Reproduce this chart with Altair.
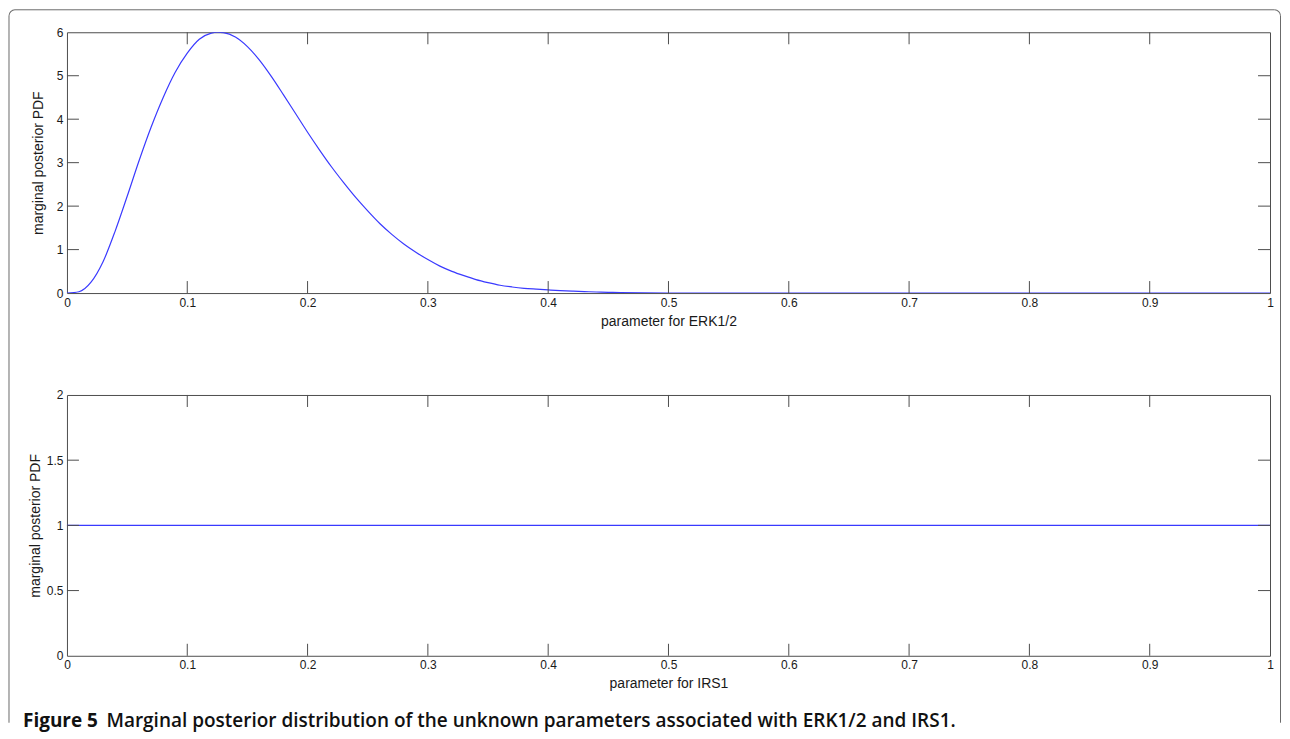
import altair as alt
import pandas as pd

# ---- data ----
erk_x = [0.00, 0.01, 0.02, 0.03, 0.04, 0.05, 0.06, 0.07, 0.08, 0.09, 0.10, 0.11,
         0.12, 0.125, 0.13, 0.14, 0.15, 0.16, 0.17, 0.18, 0.19, 0.20, 0.21, 0.22,
         0.23, 0.24, 0.25, 0.26, 0.27, 0.28, 0.29, 0.30, 0.31, 0.32, 0.33, 0.34,
         0.35, 0.36, 0.37, 0.38, 0.39, 0.40, 0.41, 0.42, 0.43, 0.44, 0.45, 0.46,
         0.50, 0.60, 0.70, 0.80, 0.90, 1.00]
erk_y = [0.00, 0.03, 0.25, 0.72, 1.42, 2.22, 3.05, 3.82, 4.50, 5.08, 5.52, 5.84,
         5.98, 6.00, 5.99, 5.89, 5.67, 5.36, 4.98, 4.56, 4.13, 3.70, 3.29, 2.90,
         2.54, 2.20, 1.89, 1.60, 1.35, 1.13, 0.94, 0.77, 0.62, 0.50, 0.40, 0.31,
         0.24, 0.18, 0.14, 0.11, 0.09, 0.072, 0.056, 0.044, 0.034, 0.025, 0.017, 0.01,
         0.0, 0.0, 0.0, 0.0, 0.0, 0.0]
irs_x = [0.0, 1.0]
irs_y = [1.0, 1.0]

x_labels = [0, 0.1, 0.2, 0.3, 0.4, 0.5, 0.6, 0.7, 0.8, 0.9, 1]
x_inner_ticks = [0.1, 0.2, 0.3, 0.4, 0.5, 0.6, 0.7, 0.8, 0.9]
top_y_labels = [0, 1, 2, 3, 4, 5, 6]
top_y_inner = [1, 2, 3, 4, 5]
bot_y_labels = [0, 0.5, 1, 1.5, 2]
bot_y_inner = [0.5, 1, 1.5]

y_title = "marginal posterior PDF"
x_title_top = "parameter for ERK1/2"
x_title_bot = "parameter for IRS1"
caption_bold = "Figure 5"
caption_rest = "Marginal posterior distribution of the unknown parameters associated with ERK1/2 and IRS1."

W, H = 1204, 261
TICK = 12
AX = "#4d4d4d"
LINE = "#3a3aff"
FRAME = "#6a6a6a"


def panel(xs, ys, ymax, ylabels, yinner, xtitle, title_pad):
    xs_scale = alt.Scale(domain=[0, 1], nice=False, zero=False)
    ys_scale = alt.Scale(domain=[0, ymax], nice=False, zero=False)
    df = pd.DataFrame({"x": xs, "y": ys})
    line = alt.Chart(df).mark_line(color=LINE, strokeWidth=1.2, clip=True,
                                   interpolate="monotone").encode(
        x=alt.X("x:Q", scale=xs_scale,
                axis=alt.Axis(values=x_labels, format="~g", title=xtitle,
                              titlePadding=6, labelPadding=4, labelFlush=False)),
        y=alt.Y("y:Q", scale=ys_scale,
                axis=alt.Axis(values=ylabels, format="~g", title=y_title,
                              titlePadding=title_pad, labelPadding=4,
                              labelFlush=False)),
        order="x:Q",
    )
    xt = pd.DataFrame({"x": x_inner_ticks})
    yt = pd.DataFrame({"y": yinner})
    xb = alt.Chart(xt).mark_rule(color=AX, strokeWidth=1).encode(
        x=alt.X("x:Q", scale=xs_scale),
        y=alt.value(H), y2=alt.value(H - TICK))
    xtop = alt.Chart(xt).mark_rule(color=AX, strokeWidth=1).encode(
        x=alt.X("x:Q", scale=xs_scale),
        y=alt.value(0), y2=alt.value(TICK))
    yl = alt.Chart(yt).mark_rule(color=AX, strokeWidth=1).encode(
        y=alt.Y("y:Q", scale=ys_scale),
        x=alt.value(0), x2=alt.value(TICK))
    yr = alt.Chart(yt).mark_rule(color=AX, strokeWidth=1).encode(
        y=alt.Y("y:Q", scale=ys_scale),
        x=alt.value(W - TICK), x2=alt.value(W))
    return [line, xb, xtop, yl, yr]


one = pd.DataFrame({"a": [0]})

# outer rounded frame (drawn relative to the top panel)
FL, FT, FR, FB, R = -58, -22.5, 1214.5, 691, 6
frame = [
    alt.Chart(one).mark_rule(color=FRAME, strokeWidth=1).encode(
        x=alt.value(FL + R), x2=alt.value(FR - R), y=alt.value(FT)),
    alt.Chart(one).mark_rule(color=FRAME, strokeWidth=1).encode(
        x=alt.value(FL), y=alt.value(FT + R), y2=alt.value(FB)),
    alt.Chart(one).mark_rule(color=FRAME, strokeWidth=1).encode(
        x=alt.value(FR), y=alt.value(FT + R), y2=alt.value(FB)),
    alt.Chart(one).mark_arc(color=FRAME, theta=4.7124, theta2=6.2832,
                            radius=R + 0.5, radius2=R - 0.5).encode(
        x=alt.value(FL + R), y=alt.value(FT + R)),
    alt.Chart(one).mark_arc(color=FRAME, theta=0, theta2=1.5708,
                            radius=R + 0.5, radius2=R - 0.5).encode(
        x=alt.value(FR - R), y=alt.value(FT + R)),
]

top = alt.layer(*panel(erk_x, erk_y, 6, top_y_labels, top_y_inner, x_title_top, 11),
                *frame).properties(width=W, height=H)

cap1 = alt.Chart(pd.DataFrame({"t": [caption_bold]})).mark_text(
    align="left", baseline="alphabetic", font="Open Sans", fontSize=19,
    fontWeight="bold", color="#111").encode(
    text="t:N", x=alt.value(-44), y=alt.value(332))
cap2 = alt.Chart(pd.DataFrame({"t": [caption_rest]})).mark_text(
    align="left", baseline="alphabetic", font="Open Sans", fontSize=19,
    fontWeight=600, color="#111").encode(
    text="t:N", x=alt.value(39.5), y=alt.value(332))

bottom = alt.layer(*panel(irs_x, irs_y, 2, bot_y_labels, bot_y_inner, x_title_bot, 4),
                   cap1, cap2).properties(width=W, height=H)

chart = alt.vconcat(top, bottom, spacing=102, bounds="flush").properties(
    padding=0
).configure_view(
    stroke=AX, strokeWidth=1
).configure_axis(
    domain=False, ticks=False, grid=False,
    labelFont="Liberation Sans", labelFontSize=12, labelColor="#1a1a1a",
    titleFont="Liberation Sans", titleFontSize=14, titleFontWeight="normal",
    titleColor="#1a1a1a",
)

chart.save("out.html", embed_options={"renderer": "svg", "actions": False})
